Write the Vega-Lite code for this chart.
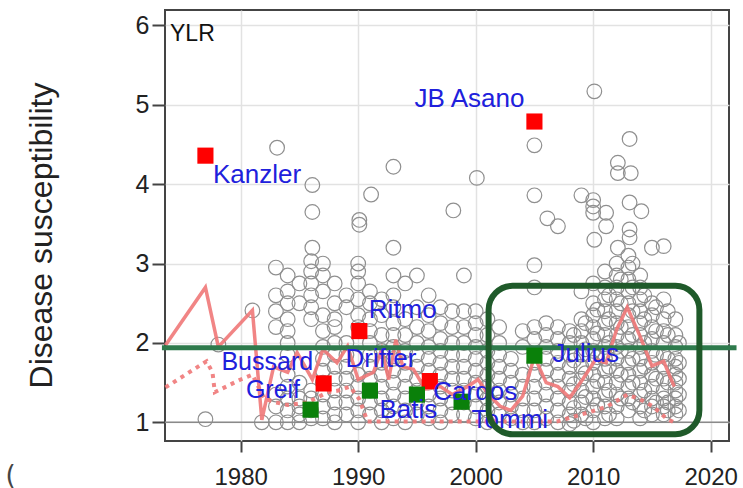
{
"$schema":"https://vega.github.io/schema/vega-lite/v6.json",
"width":564,"height":431,
"autosize":{"type":"none"},
"padding":{"left":165,"top":10,"right":14,"bottom":47},
"background":"white",
"config":{"view":{"stroke":"#444","strokeWidth":2},"font":"Liberation Sans"},
"data":{"values":[{}]},
"datasets":{
"pts":[
{"year":1977,"s":1.04},{"year":1978.1,"s":1.98},{"year":1981,"s":2.41},{"year":1981.8,"s":1.0},
{"year":1983.1,"s":4.46},{"year":1983,"s":2.95},{"year":1983,"s":2.6},{"year":1983,"s":2.4},{"year":1983,"s":2.2},{"year":1983,"s":1.35},{"year":1983,"s":1.2},{"year":1983,"s":1.0},
{"year":1984,"s":2.85},{"year":1984,"s":2.65},{"year":1984,"s":2.5},{"year":1984,"s":2.3},{"year":1984,"s":2.15},{"year":1984,"s":2.0},{"year":1984,"s":1.85},{"year":1984,"s":1.6},{"year":1984,"s":1.45},{"year":1984,"s":1.3},{"year":1984,"s":1.15},{"year":1984,"s":1.0},
{"year":1985,"s":2.75},{"year":1985,"s":2.5},{"year":1985,"s":1.5},{"year":1985,"s":1.3},{"year":1985,"s":1.2},{"year":1985,"s":1.1},{"year":1985,"s":1.0},
{"year":1986.1,"s":3.99},{"year":1986.1,"s":3.65},{"year":1986.1,"s":3.2},{"year":1986,"s":3.03},{"year":1986,"s":2.9},{"year":1986,"s":2.75},{"year":1986,"s":2.6},{"year":1986,"s":2.45},{"year":1986,"s":2.3},{"year":1986,"s":1.4},{"year":1986,"s":1.3},{"year":1986,"s":1.15},{"year":1986,"s":1.05},
{"year":1987,"s":3.0},{"year":1987,"s":2.85},{"year":1987,"s":2.65},{"year":1987,"s":2.35},{"year":1987,"s":2.15},{"year":1987,"s":1.95},{"year":1987,"s":1.8},{"year":1987,"s":1.65},{"year":1987,"s":1.5},{"year":1987,"s":1.35},{"year":1987,"s":1.2},{"year":1987,"s":1.05},
{"year":1988,"s":2.75},{"year":1988,"s":2.5},{"year":1988,"s":2.3},{"year":1988,"s":2.2},{"year":1988,"s":2.0},{"year":1988,"s":1.85},{"year":1988,"s":1.7},{"year":1988,"s":1.55},{"year":1988,"s":1.4},{"year":1988,"s":1.25},{"year":1988,"s":1.1},{"year":1988,"s":1.0},
{"year":1989,"s":2.6},{"year":1989,"s":2.45},{"year":1989,"s":2.0},{"year":1989,"s":1.85},{"year":1989,"s":1.7},{"year":1989,"s":1.55},{"year":1989,"s":1.4},{"year":1989,"s":1.25},{"year":1989,"s":1.1},
{"year":1990.1,"s":3.55},{"year":1990.1,"s":3.49},{"year":1990,"s":3.0},{"year":1990,"s":2.9},{"year":1990,"s":2.75},{"year":1990,"s":2.55},{"year":1990,"s":2.35},{"year":1990,"s":2.2},{"year":1990,"s":1.6},{"year":1990,"s":1.45},{"year":1990,"s":1.3},{"year":1990,"s":1.15},{"year":1990,"s":1.0},
{"year":1991.1,"s":3.87},{"year":1991,"s":2.65},{"year":1991,"s":2.5},{"year":1991,"s":2.3},{"year":1991,"s":2.15},{"year":1991,"s":2.0},{"year":1991,"s":1.85},{"year":1991,"s":1.7},{"year":1991,"s":1.55},{"year":1991,"s":1.4},{"year":1991,"s":1.25},{"year":1991,"s":1.1},
{"year":1992,"s":2.55},{"year":1992,"s":2.35},{"year":1992,"s":2.1},{"year":1992,"s":1.9},{"year":1992,"s":1.75},{"year":1992,"s":1.6},{"year":1992,"s":1.45},{"year":1992,"s":1.3},{"year":1992,"s":1.15},{"year":1992,"s":1.0},
{"year":1993,"s":4.22},{"year":1993,"s":3.2},{"year":1993,"s":2.85},{"year":1993,"s":2.6},{"year":1993,"s":2.45},{"year":1993,"s":2.25},{"year":1993,"s":2.1},{"year":1993,"s":1.95},{"year":1993,"s":1.8},{"year":1993,"s":1.65},{"year":1993,"s":1.5},{"year":1993,"s":1.35},{"year":1993,"s":1.2},{"year":1993,"s":1.05},
{"year":1994,"s":2.75},{"year":1994,"s":2.3},{"year":1994,"s":2.1},{"year":1994,"s":1.9},{"year":1994,"s":1.75},{"year":1994,"s":1.6},{"year":1994,"s":1.45},{"year":1994,"s":1.3},{"year":1994,"s":1.15},{"year":1994,"s":1.0},
{"year":1995,"s":2.85},{"year":1995,"s":2.45},{"year":1995,"s":2.2},{"year":1995,"s":2.0},{"year":1995,"s":1.85},{"year":1995,"s":1.7},{"year":1995,"s":1.55},{"year":1995,"s":1.4},{"year":1995,"s":1.25},{"year":1995,"s":1.1},
{"year":1996,"s":2.6},{"year":1996,"s":2.35},{"year":1996,"s":2.15},{"year":1996,"s":1.95},{"year":1996,"s":1.8},{"year":1996,"s":1.65},{"year":1996,"s":1.5},{"year":1996,"s":1.35},{"year":1996,"s":1.2},{"year":1996,"s":1.05},
{"year":1997,"s":2.45},{"year":1997,"s":2.25},{"year":1997,"s":2.05},{"year":1997,"s":1.9},{"year":1997,"s":1.75},{"year":1997,"s":1.6},{"year":1997,"s":1.45},{"year":1997,"s":1.3},{"year":1997,"s":1.15},{"year":1997,"s":1.0},
{"year":1998.1,"s":3.67},{"year":1998,"s":2.4},{"year":1998,"s":2.2},{"year":1998,"s":2.0},{"year":1998,"s":1.85},{"year":1998,"s":1.7},{"year":1998,"s":1.55},{"year":1998,"s":1.4},{"year":1998,"s":1.25},{"year":1998,"s":1.1},
{"year":1999,"s":2.85},{"year":1999,"s":2.4},{"year":1999,"s":2.2},{"year":1999,"s":2.0},{"year":1999,"s":1.85},{"year":1999,"s":1.7},{"year":1999,"s":1.55},{"year":1999,"s":1.4},{"year":1999,"s":1.25},{"year":1999,"s":1.1},
{"year":2000.1,"s":4.08},{"year":2000,"s":2.4},{"year":2000,"s":2.25},{"year":2000,"s":2.1},{"year":2000,"s":1.95},{"year":2000,"s":1.8},{"year":2000,"s":1.65},{"year":2000,"s":1.5},{"year":2000,"s":1.35},{"year":2000,"s":1.2},{"year":2000,"s":1.05},
{"year":2001,"s":2.3},{"year":2001,"s":2.1},{"year":2001,"s":1.9},{"year":2001,"s":1.75},{"year":2001,"s":1.6},{"year":2001,"s":1.45},{"year":2001,"s":1.3},{"year":2001,"s":1.15},{"year":2001,"s":1.0},
{"year":2002,"s":2.2},{"year":2002,"s":2.0},{"year":2002,"s":1.85},{"year":2002,"s":1.7},{"year":2002,"s":1.55},{"year":2002,"s":1.4},{"year":2002,"s":1.25},{"year":2002,"s":1.1},
{"year":2003,"s":1.8},{"year":2003,"s":1.65},{"year":2003,"s":1.5},{"year":2003,"s":1.35},{"year":2003,"s":1.2},{"year":2003,"s":1.05},
{"year":2004,"s":2.15},{"year":2004,"s":1.95},{"year":2004,"s":1.6},{"year":2004,"s":1.45},{"year":2004,"s":1.3},{"year":2004,"s":1.15},{"year":2004,"s":1.0},
{"year":2005,"s":4.49},{"year":2005,"s":3.86},{"year":2005,"s":2.98},{"year":2005,"s":2.7},{"year":2005,"s":2.2},{"year":2005,"s":2.05},{"year":2005,"s":1.75},{"year":2005,"s":1.6},{"year":2005,"s":1.45},{"year":2005,"s":1.3},{"year":2005,"s":1.15},{"year":2005,"s":1.0},
{"year":2006.1,"s":3.57},{"year":2006,"s":2.25},{"year":2006,"s":2.1},{"year":2006,"s":1.95},{"year":2006,"s":1.8},{"year":2006,"s":1.65},{"year":2006,"s":1.5},{"year":2006,"s":1.35},{"year":2006,"s":1.2},{"year":2006,"s":1.05},
{"year":2007,"s":3.47},{"year":2007,"s":2.2},{"year":2007,"s":2.05},{"year":2007,"s":1.9},{"year":2007,"s":1.75},{"year":2007,"s":1.6},{"year":2007,"s":1.45},{"year":2007,"s":1.3},{"year":2007,"s":1.15},{"year":2007,"s":1.0},
{"year":2008,"s":2.15},{"year":2008,"s":2.0},{"year":2008,"s":1.85},{"year":2008,"s":1.7},{"year":2008,"s":1.55},{"year":2008,"s":1.4},{"year":2008,"s":1.25},{"year":2008,"s":1.1},{"year":2008,"s":0.98},
{"year":2008.35,"s":2.1},{"year":2008.35,"s":1.78},{"year":2008.35,"s":1.48},{"year":2008.35,"s":1.18},{"year":2008.35,"s":1.02},
{"year":2009,"s":3.86},{"year":2009,"s":2.65},{"year":2009,"s":2.3},{"year":2009,"s":2.15},{"year":2009,"s":2.0},{"year":2009,"s":1.85},{"year":2009,"s":1.7},{"year":2009,"s":1.55},{"year":2009,"s":1.4},{"year":2009,"s":1.25},{"year":2009,"s":1.1},
{"year":2009.35,"s":2.25},{"year":2009.35,"s":1.92},{"year":2009.35,"s":1.62},{"year":2009.35,"s":1.32},{"year":2009.35,"s":1.05},
{"year":2010.1,"s":5.17},{"year":2010,"s":3.8},{"year":2010,"s":3.72},{"year":2010,"s":3.64},{"year":2010.1,"s":3.3},{"year":2010,"s":2.75},{"year":2010,"s":2.5},{"year":2010,"s":2.35},{"year":2010,"s":2.2},{"year":2010,"s":2.05},{"year":2010,"s":1.9},{"year":2010,"s":1.75},{"year":2010,"s":1.6},{"year":2010,"s":1.45},{"year":2010,"s":1.3},{"year":2010,"s":1.15},{"year":2010,"s":1.0},
{"year":2010.35,"s":2.42},{"year":2010.35,"s":2.12},{"year":2010.35,"s":1.82},{"year":2010.35,"s":1.52},{"year":2010.35,"s":1.22},
{"year":2011.1,"s":3.64},{"year":2011.1,"s":3.47},{"year":2011,"s":2.9},{"year":2011,"s":2.7},{"year":2011,"s":2.55},{"year":2011,"s":2.4},{"year":2011,"s":2.25},{"year":2011,"s":2.1},{"year":2011,"s":1.95},{"year":2011,"s":1.8},{"year":2011,"s":1.65},{"year":2011,"s":1.5},{"year":2011,"s":1.35},{"year":2011,"s":1.2},{"year":2011,"s":1.05},
{"year":2011.35,"s":2.6},{"year":2011.35,"s":2.3},{"year":2011.35,"s":2.0},{"year":2011.35,"s":1.7},{"year":2011.35,"s":1.4},{"year":2011.35,"s":1.1},
{"year":2012.1,"s":4.27},{"year":2012.1,"s":4.14},{"year":2012.1,"s":3.2},{"year":2012,"s":3.0},{"year":2012,"s":2.85},{"year":2012,"s":2.7},{"year":2012,"s":2.55},{"year":2012,"s":2.4},{"year":2012,"s":2.25},{"year":2012,"s":2.1},{"year":2012,"s":1.95},{"year":2012,"s":1.8},{"year":2012,"s":1.65},{"year":2012,"s":1.5},{"year":2012,"s":1.35},{"year":2012,"s":1.2},{"year":2012,"s":1.05},
{"year":2012.35,"s":2.8},{"year":2012.35,"s":2.5},{"year":2012.35,"s":2.2},{"year":2012.35,"s":1.9},{"year":2012.35,"s":1.6},{"year":2012.35,"s":1.3},
{"year":2013.1,"s":4.57},{"year":2013.2,"s":4.14},{"year":2013.1,"s":3.77},{"year":2013.1,"s":3.43},{"year":2013.1,"s":3.33},{"year":2013,"s":3.1},{"year":2013,"s":2.95},{"year":2013,"s":2.8},{"year":2013,"s":2.65},{"year":2013,"s":2.5},{"year":2013,"s":2.35},{"year":2013,"s":2.2},{"year":2013,"s":2.05},{"year":2013,"s":1.9},{"year":2013,"s":1.75},{"year":2013,"s":1.6},{"year":2013,"s":1.45},{"year":2013,"s":1.3},{"year":2013,"s":1.15},
{"year":2013.35,"s":3.0},{"year":2013.35,"s":2.7},{"year":2013.35,"s":2.4},{"year":2013.35,"s":2.1},{"year":2013.35,"s":1.8},{"year":2013.35,"s":1.5},{"year":2013.35,"s":1.25},
{"year":2014.1,"s":3.66},{"year":2014,"s":2.85},{"year":2014,"s":2.7},{"year":2014,"s":2.55},{"year":2014,"s":2.4},{"year":2014,"s":2.25},{"year":2014,"s":2.1},{"year":2014,"s":1.95},{"year":2014,"s":1.8},{"year":2014,"s":1.65},{"year":2014,"s":1.5},{"year":2014,"s":1.35},{"year":2014,"s":1.2},{"year":2014,"s":1.05},
{"year":2014.35,"s":2.6},{"year":2014.35,"s":2.3},{"year":2014.35,"s":2.0},{"year":2014.35,"s":1.7},{"year":2014.35,"s":1.4},{"year":2014.35,"s":1.15},
{"year":2015,"s":3.2},{"year":2015,"s":2.5},{"year":2015,"s":2.35},{"year":2015,"s":2.2},{"year":2015,"s":2.05},{"year":2015,"s":1.9},{"year":2015,"s":1.75},{"year":2015,"s":1.6},{"year":2015,"s":1.45},{"year":2015,"s":1.3},{"year":2015,"s":1.2},{"year":2015,"s":1.1},
{"year":2015.35,"s":2.45},{"year":2015.35,"s":2.15},{"year":2015.35,"s":1.85},{"year":2015.35,"s":1.55},{"year":2015.35,"s":1.25},
{"year":2016,"s":3.22},{"year":2016,"s":2.55},{"year":2016,"s":2.3},{"year":2016,"s":2.15},{"year":2016,"s":2.0},{"year":2016,"s":1.85},{"year":2016,"s":1.7},{"year":2016,"s":1.55},{"year":2016,"s":1.4},{"year":2016,"s":1.3},{"year":2016,"s":1.2},{"year":2016,"s":1.1},
{"year":2016.35,"s":2.4},{"year":2016.35,"s":2.1},{"year":2016.35,"s":1.8},{"year":2016.35,"s":1.5},{"year":2016.35,"s":1.25},{"year":2016.35,"s":1.15},
{"year":2017,"s":2.3},{"year":2017,"s":2.1},{"year":2017,"s":1.95},{"year":2017,"s":1.8},{"year":2017,"s":1.7},{"year":2017,"s":1.6},{"year":2017,"s":1.5},{"year":2017,"s":1.4},{"year":2017,"s":1.3},{"year":2017,"s":1.2},{"year":2017,"s":1.1},
{"year":2017.3,"s":2.0},{"year":2017.3,"s":1.75},{"year":2017.3,"s":1.55},{"year":2017.3,"s":1.35},{"year":2017.3,"s":1.15}
],
"mean":[
{"year":1973.6,"s":1.97},{"year":1977,"s":2.7},{"year":1978.1,"s":1.95},{"year":1981,"s":2.41},{"year":1981.8,"s":1.03},{"year":1982.8,"s":1.7},{"year":1984,"s":1.63},{"year":1984.8,"s":1.88},{"year":1986.1,"s":1.54},{"year":1987,"s":1.92},{"year":1988.2,"s":1.75},{"year":1989.1,"s":1.96},{"year":1990,"s":1.54},{"year":1991.3,"s":1.63},{"year":1992,"s":1.92},{"year":1992.6,"s":1.54},{"year":1993.2,"s":2.04},{"year":1993.8,"s":1.7},{"year":1994.7,"s":1.67},{"year":1995.7,"s":1.42},{"year":1997,"s":1.45},{"year":1998,"s":1.35},{"year":1999.3,"s":1.45},{"year":2000.2,"s":1.54},{"year":2001.1,"s":1.35},{"year":2002.1,"s":1.2},{"year":2003,"s":1.15},{"year":2004,"s":1.33},{"year":2005,"s":1.83},{"year":2006,"s":1.5},{"year":2007,"s":1.45},{"year":2008,"s":1.31},{"year":2009.1,"s":1.54},{"year":2010.2,"s":1.79},{"year":2011.1,"s":1.75},{"year":2012,"s":2.17},{"year":2012.9,"s":2.45},{"year":2014,"s":2.08},{"year":2015,"s":1.71},{"year":2016,"s":1.77},{"year":2016.9,"s":1.45}
],
"low":[
{"year":1973.6,"s":1.44},{"year":1977.1,"s":1.77},{"year":1977.6,"s":1.63},{"year":1977.8,"s":1.38},{"year":1980,"s":1.54},{"year":1981,"s":1.6},{"year":1982,"s":1.3},{"year":1983,"s":1.25},{"year":1984,"s":1.22},{"year":1985.7,"s":1.25},{"year":1987.4,"s":1.38},{"year":1988.3,"s":1.4},{"year":1989.3,"s":1.45},{"year":1990.1,"s":1.29},{"year":1990.8,"s":1.01},{"year":2006.9,"s":1.01},{"year":2009.7,"s":1.13},{"year":2011.2,"s":1.2},{"year":2012.9,"s":1.35},{"year":2014,"s":1.29},{"year":2015.1,"s":1.2},{"year":2016.3,"s":1.04},{"year":2016.9,"s":1.0}
],
"cult":[
{"name":"Kanzler","year":1977.0,"s":4.36,"grp":"red"},
{"name":"JB Asano","year":2005.0,"s":4.79,"grp":"red"},
{"name":"Ritmo","year":1990.1,"s":2.15,"grp":"red"},
{"name":"Bussard","year":1987.06,"s":1.49,"grp":"red"},
{"name":"Cardos","year":1996.1,"s":1.52,"grp":"red"},
{"name":"Greif","year":1985.95,"s":1.16,"grp":"green"},
{"name":"Drifter","year":1991.0,"s":1.4,"grp":"green"},
{"name":"Batis","year":1995.0,"s":1.35,"grp":"green"},
{"name":"Tommi","year":1998.8,"s":1.26,"grp":"green"},
{"name":"Julius","year":2005.0,"s":1.84,"grp":"green"}
]
},
"layer":[
{"data":{"name":"pts"},
 "mark":{"type":"point","shape":"circle","filled":false,"size":215,"strokeWidth":1.2,"color":"#8f8f8f","opacity":1},
 "encoding":{
  "x":{"field":"year","type":"quantitative","scale":{"domain":[1973.56,2021.56],"nice":false,"zero":false},
   "axis":{"values":[1980,1990,2000,2010,2020],"format":"d","title":"(","titleX":-160,"titleY":42,"titleAlign":"left","titleBaseline":"alphabetic","titleAnchor":"start","titleFontSize":26,"titleFontWeight":"normal","titleColor":"#444","titleFont":"DejaVu Sans",
    "tickSize":11,"tickWidth":2,"tickColor":"#444","labelFontSize":24,"labelPadding":13,"labelColor":"#222","labelFont":"Liberation Sans","domain":false,"grid":true,"gridColor":"#e2e2e2","gridWidth":1.5,"labelFlush":false}},
  "y":{"field":"s","type":"quantitative","scale":{"domain":[0.765,6.195],"nice":false,"zero":false},
   "axis":{"values":[1,2,3,4,5,6],"format":"d","title":"Disease susceptibility","titleX":-124,"titleY":225,"titleAngle":-90,"titleAlign":"center","titleBaseline":"middle","titleFontSize":32,"titleFontWeight":"normal","titleColor":"#222","titleFont":"Liberation Sans",
    "tickSize":13,"tickWidth":2,"tickColor":"#444","labelFontSize":25,"labelPadding":3,"labelColor":"#222","labelFont":"Liberation Sans","domain":false,"grid":true,"gridColor":"#e2e2e2","gridWidth":1.5,"labelFlush":false}}
 }},
{"mark":{"type":"rule","color":"#8a8a8a","strokeWidth":1.5},
 "encoding":{"y":{"datum":1,"type":"quantitative","scale":{"domain":[0.765,6.195],"nice":false,"zero":false}}}},
{"data":{"name":"low"},
 "mark":{"type":"line","color":"#f07878","strokeWidth":4,"strokeDash":[4,5],"opacity":0.9},
 "encoding":{"x":{"field":"year","type":"quantitative","scale":{"domain":[1973.56,2021.56],"nice":false,"zero":false}},
  "y":{"field":"s","type":"quantitative","scale":{"domain":[0.765,6.195],"nice":false,"zero":false}}}},
{"data":{"name":"mean"},
 "mark":{"type":"line","color":"#f07878","strokeWidth":3.5,"opacity":0.9},
 "encoding":{"x":{"field":"year","type":"quantitative","scale":{"domain":[1973.56,2021.56],"nice":false,"zero":false}},
  "y":{"field":"s","type":"quantitative","scale":{"domain":[0.765,6.195],"nice":false,"zero":false}}}},
{"mark":{"type":"rule","color":"#2e7a4c","strokeWidth":5,"clip":false},
 "encoding":{"x":{"datum":1973.3,"type":"quantitative","scale":{"domain":[1973.56,2021.56],"nice":false,"zero":false}},
  "x2":{"datum":2022.2},
  "y":{"datum":1.94,"type":"quantitative","scale":{"domain":[0.765,6.195],"nice":false,"zero":false}}}},
{"data":{"name":"cult"},
 "mark":{"type":"point","shape":"square","filled":true,"size":260,"opacity":1},
 "encoding":{"x":{"field":"year","type":"quantitative","scale":{"domain":[1973.56,2021.56],"nice":false,"zero":false}},
  "y":{"field":"s","type":"quantitative","scale":{"domain":[0.765,6.195],"nice":false,"zero":false}},
  "color":{"field":"grp","type":"nominal","scale":{"domain":["red","green"],"range":["#ff0000","#0a800a"]},"legend":null}}},
{"data":{"name":"cult"},"transform":[{"filter":"datum.name==='Kanzler'"}],
 "mark":{"type":"text","align":"left","baseline":"alphabetic","dx":7.5,"dy":27,"fontSize":26,"color":"#2020dc","font":"Liberation Sans"},
 "encoding":{"x":{"field":"year","type":"quantitative"},"y":{"field":"s","type":"quantitative"},"text":{"field":"name"}}},
{"data":{"name":"cult"},"transform":[{"filter":"datum.name==='JB Asano'"}],
 "mark":{"type":"text","align":"right","baseline":"alphabetic","dx":-10,"dy":-15,"fontSize":26,"color":"#2020dc","font":"Liberation Sans"},
 "encoding":{"x":{"field":"year","type":"quantitative"},"y":{"field":"s","type":"quantitative"},"text":{"field":"name"}}},
{"data":{"name":"cult"},"transform":[{"filter":"datum.name==='Ritmo'"}],
 "mark":{"type":"text","align":"left","baseline":"alphabetic","dx":9.5,"dy":-13.5,"fontSize":26,"color":"#2020dc","font":"Liberation Sans"},
 "encoding":{"x":{"field":"year","type":"quantitative"},"y":{"field":"s","type":"quantitative"},"text":{"field":"name"}}},
{"data":{"name":"cult"},"transform":[{"filter":"datum.name==='Drifter'"}],
 "mark":{"type":"text","align":"center","baseline":"alphabetic","dx":11,"dy":-23.5,"fontSize":26,"color":"#2020dc","font":"Liberation Sans"},
 "encoding":{"x":{"field":"year","type":"quantitative"},"y":{"field":"s","type":"quantitative"},"text":{"field":"name"}}},
{"data":{"name":"cult"},"transform":[{"filter":"datum.name==='Bussard'"}],
 "mark":{"type":"text","align":"right","baseline":"alphabetic","dx":-10.5,"dy":-13,"fontSize":25,"color":"#2020dc","font":"Liberation Sans"},
 "encoding":{"x":{"field":"year","type":"quantitative"},"y":{"field":"s","type":"quantitative"},"text":{"field":"name"}}},
{"data":{"name":"cult"},"transform":[{"filter":"datum.name==='Greif'"}],
 "mark":{"type":"text","align":"right","baseline":"alphabetic","dx":-10.5,"dy":-12,"fontSize":25,"color":"#2020dc","font":"Liberation Sans"},
 "encoding":{"x":{"field":"year","type":"quantitative"},"y":{"field":"s","type":"quantitative"},"text":{"field":"name"}}},
{"data":{"name":"cult"},"transform":[{"filter":"datum.name==='Batis'"}],
 "mark":{"type":"text","align":"center","baseline":"alphabetic","dx":-8.5,"dy":23,"fontSize":26,"color":"#2020dc","font":"Liberation Sans"},
 "encoding":{"x":{"field":"year","type":"quantitative"},"y":{"field":"s","type":"quantitative"},"text":{"field":"name"}}},
{"data":{"name":"cult"},"transform":[{"filter":"datum.name==='Cardos'"}],
 "mark":{"type":"text","align":"left","baseline":"alphabetic","dx":3.5,"dy":18.5,"fontSize":26,"color":"#2020dc","font":"Liberation Sans"},
 "encoding":{"x":{"field":"year","type":"quantitative"},"y":{"field":"s","type":"quantitative"},"text":{"field":"name"}}},
{"data":{"name":"cult"},"transform":[{"filter":"datum.name==='Tommi'"}],
 "mark":{"type":"text","align":"left","baseline":"alphabetic","dx":10,"dy":26,"fontSize":26,"color":"#2020dc","font":"Liberation Sans"},
 "encoding":{"x":{"field":"year","type":"quantitative"},"y":{"field":"s","type":"quantitative"},"text":{"field":"name"}}},
{"data":{"name":"cult"},"transform":[{"filter":"datum.name==='Julius'"}],
 "mark":{"type":"text","align":"left","baseline":"alphabetic","dx":18,"dy":6,"fontSize":26,"color":"#2020dc","font":"Liberation Sans"},
 "encoding":{"x":{"field":"year","type":"quantitative"},"y":{"field":"s","type":"quantitative"},"text":{"field":"name"}}},
{"mark":{"type":"rect","filled":false,"stroke":"#1f5a2a","strokeWidth":6,"cornerRadius":24},
 "encoding":{"x":{"datum":2001.1,"type":"quantitative","scale":{"domain":[1973.56,2021.56],"nice":false,"zero":false}},"x2":{"datum":2019.04},
  "y":{"datum":2.72,"type":"quantitative","scale":{"domain":[0.765,6.195],"nice":false,"zero":false}},"y2":{"datum":0.85}}},
{"mark":{"type":"text","align":"left","baseline":"alphabetic","dx":5,"fontSize":23,"color":"#111","font":"Liberation Sans","text":"YLR"},
 "encoding":{"x":{"datum":1973.56,"type":"quantitative","scale":{"domain":[1973.56,2021.56],"nice":false,"zero":false}},
  "y":{"datum":5.805,"type":"quantitative","scale":{"domain":[0.765,6.195],"nice":false,"zero":false}}}}
]
}
